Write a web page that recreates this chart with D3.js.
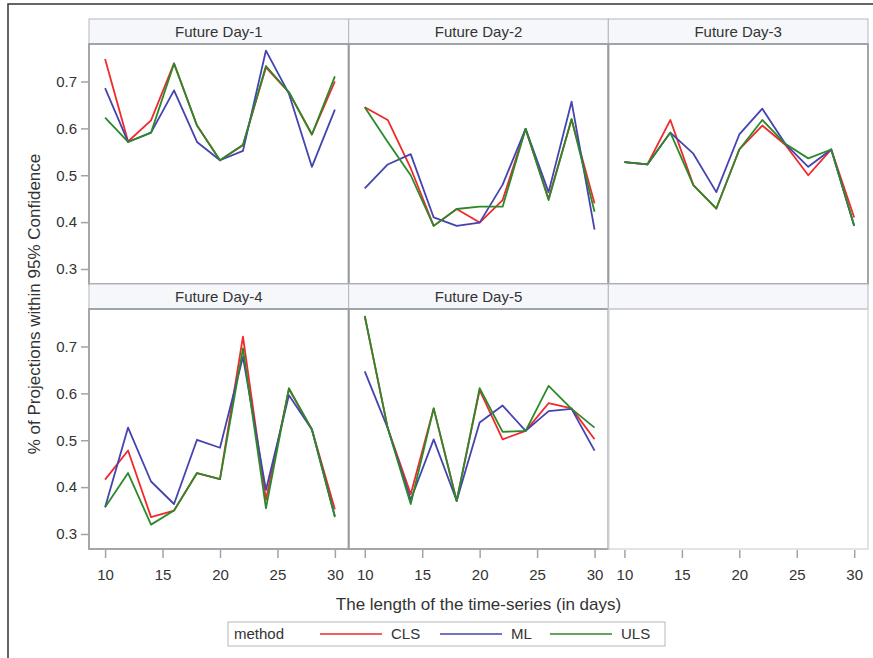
<!DOCTYPE html>
<html lang="en">
  <head>
    <meta charset="utf-8">
    <title>Projections within 95% Confidence</title>
    <script src="https://d3js.org/d3.v7.min.js"></script>
    <style>
      body { margin: 0; background: #fff; }
      text { font-family: "Liberation Sans", Arial, sans-serif; fill: #333; }
    </style>
  </head>
  <body>
    <svg width="873" height="658"></svg>
    <script type="text/javascript">
      // data
      var days = [10, 12, 14, 16, 18, 20, 22, 24, 26, 28, 30];
      var panels = ["Future Day-1", "Future Day-2", "Future Day-3", "Future Day-4", "Future Day-5"];
      var methods = ["CLS", "ML", "ULS"];
      var colors = ["#f02a2a", "#4444b0", "#2a8a2a"];
      var yTicks = [0.3, 0.4, 0.5, 0.6, 0.7];
      var xTicks = [10, 15, 20, 25, 30];

      var cls = [
        [0.748, 0.572, 0.617, 0.739, 0.606, 0.532, 0.564, 0.730, 0.677, 0.587, 0.700],
        [0.645, 0.618, 0.515, 0.392, 0.428, 0.399, 0.447, 0.599, 0.450, 0.619, 0.440],
        [0.528, 0.523, 0.618, 0.479, 0.429, 0.555, 0.606, 0.565, 0.500, 0.555, 0.410],
        [0.416, 0.478, 0.336, 0.350, 0.430, 0.417, 0.721, 0.373, 0.609, 0.523, 0.353],
        [0.765, 0.526, 0.385, 0.568, 0.371, 0.607, 0.502, 0.520, 0.579, 0.568, 0.502]
      ];
      var ml = [
        [0.686, 0.571, 0.591, 0.681, 0.571, 0.532, 0.552, 0.766, 0.674, 0.518, 0.640],
        [0.472, 0.523, 0.545, 0.410, 0.392, 0.399, 0.480, 0.599, 0.464, 0.657, 0.384],
        [0.528, 0.523, 0.591, 0.546, 0.464, 0.587, 0.642, 0.567, 0.518, 0.555, 0.392],
        [0.357, 0.527, 0.412, 0.364, 0.501, 0.484, 0.678, 0.394, 0.596, 0.523, 0.338],
        [0.647, 0.526, 0.373, 0.502, 0.371, 0.538, 0.574, 0.520, 0.562, 0.567, 0.478]
      ];
      var uls = [
        [0.623, 0.571, 0.591, 0.738, 0.606, 0.532, 0.565, 0.733, 0.677, 0.587, 0.711],
        [0.645, 0.571, 0.500, 0.392, 0.428, 0.433, 0.433, 0.599, 0.447, 0.620, 0.422],
        [0.528, 0.523, 0.591, 0.479, 0.429, 0.555, 0.618, 0.567, 0.536, 0.555, 0.392],
        [0.357, 0.430, 0.320, 0.350, 0.430, 0.417, 0.696, 0.355, 0.611, 0.523, 0.336],
        [0.765, 0.526, 0.364, 0.568, 0.370, 0.611, 0.518, 0.520, 0.616, 0.567, 0.527]
      ];
      var series = [cls, ml, uls];

      var svg = d3.select("svg");

      var gridLeft = 89, gridTop = 19, gridRight = 868;
      var colW = (gridRight - gridLeft) / 3;
      var headH = 25, plotH = 240;
      var rowH = headH + plotH;

      var x = d3.scaleLinear().domain([8.6, 31.2]).range([0, colW]);
      var y = d3.scaleLinear().domain([0.268, 0.78]).range([plotH, 0]);

      // outer frame (cut off on right and bottom)
      svg.append("path")
          .attr("d", "M8,662 L8,4 L880,4")
          .attr("fill", "none")
          .attr("stroke", "#333")
          .attr("stroke-width", 1.5);

      var line = d3.line()
          .x(function(d, i) { return x(days[i]); })
          .y(function(d) { return y(d); });

      // six cells, last one empty
      d3.range(6).forEach(function(k) {
        var col = k % 3, row = Math.floor(k / 3);
        var g = svg.append("g")
            .attr("transform", "translate(" + (gridLeft + col * colW) + "," + (gridTop + row * rowH) + ")");
        var empty = k >= panels.length;

        g.append("rect")
            .attr("width", colW).attr("height", headH)
            .attr("fill", "#f5f7fa")
            .attr("stroke", "#b4b8bc").attr("stroke-width", 1);
        if (!empty) {
          g.append("text")
              .attr("x", colW / 2).attr("y", headH / 2 + 5)
              .attr("text-anchor", "middle")
              .style("font-size", "15px")
              .text(panels[k]);
        }

        var p = g.append("g").attr("transform", "translate(0," + headH + ")");
        if (!empty) {
          methods.forEach(function(m, j) {
            p.append("path")
                .datum(series[j][k])
                .attr("d", line)
                .attr("fill", "none")
                .attr("stroke", colors[j])
                .attr("stroke-width", 1.8)
                .attr("stroke-linejoin", "round");
          });
        }
        p.append("rect")
            .attr("width", colW).attr("height", plotH)
            .attr("fill", "none")
            .attr("stroke", empty ? "#cdd0d3" : "#9a9ea2")
            .attr("stroke-width", empty ? 1.2 : 1.8);

        if (col == 0) {
          var ya = p.append("g")
              .call(d3.axisLeft(y).tickValues(yTicks).tickFormat(d3.format(".1f")).tickSize(8).tickPadding(4));
          ya.select(".domain").remove();
          ya.selectAll("line").attr("stroke", "#a0a4a8").attr("stroke-width", 1.5);
          ya.selectAll("text").style("font-size", "15px").attr("fill", "#333");
        }
        if (row == 1) {
          var xa = p.append("g")
              .attr("transform", "translate(0," + (plotH + 1) + ")")
              .call(d3.axisBottom(x).tickValues(xTicks).tickSize(8).tickPadding(11));
          xa.select(".domain").remove();
          xa.selectAll("line").attr("stroke", "#a0a4a8").attr("stroke-width", 1.5);
          xa.selectAll("text").style("font-size", "15px").attr("fill", "#333");
        }
      });

      // axis titles
      svg.append("text")
          .attr("x", gridLeft + colW * 1.5).attr("y", 610)
          .attr("text-anchor", "middle")
          .style("font-size", "17px")
          .text("The length of the time-series (in days)");

      svg.append("text")
          .attr("transform", "translate(40," + (gridTop + rowH + 20) + ") rotate(-90)")
          .attr("text-anchor", "middle")
          .style("font-size", "17px")
          .text("% of Projections within 95% Confidence");

      // legend
      var lg = svg.append("g").attr("transform", "translate(228,622)");
      lg.append("rect")
          .attr("width", 437).attr("height", 24)
          .attr("fill", "#fff")
          .attr("stroke", "#b4b8bc").attr("stroke-width", 1);
      lg.append("text")
          .attr("x", 6).attr("y", 17)
          .style("font-size", "15px")
          .text("method");
      var legX = [92, 212, 322];
      methods.forEach(function(m, j) {
        lg.append("line")
            .attr("x1", legX[j]).attr("x2", legX[j] + 62)
            .attr("y1", 12).attr("y2", 12)
            .attr("stroke", colors[j]).attr("stroke-width", 1.6);
        lg.append("text")
            .attr("x", legX[j] + 71).attr("y", 17)
            .style("font-size", "15px")
            .text(m);
      });
    </script>
  </body>
</html>
